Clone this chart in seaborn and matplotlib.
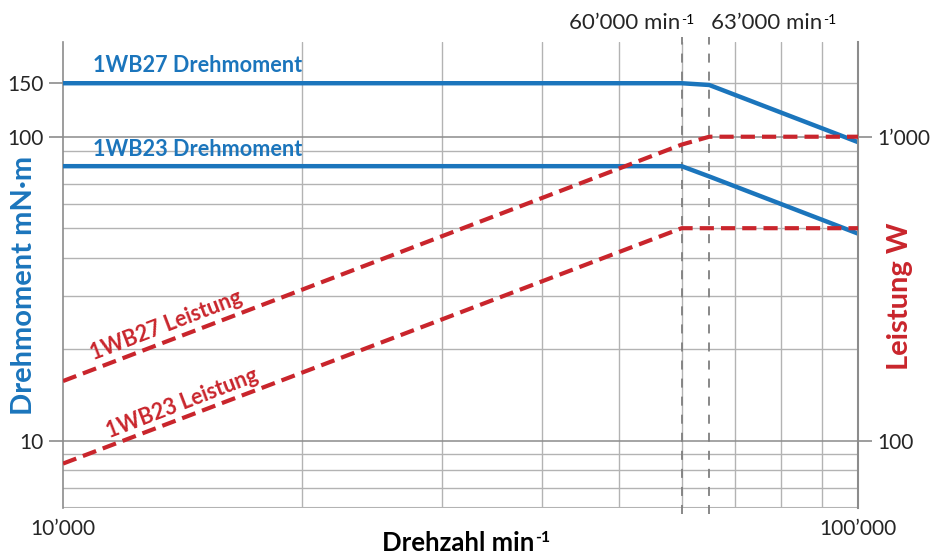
import numpy as np
import pandas as pd
import seaborn as sns
import matplotlib.pyplot as plt
from matplotlib.ticker import FixedLocator, NullLocator, NullFormatter

# --- data ---
speed = [10000, 60000, 65000, 100000]          # Drehzahl min-1
torque_1wb27 = [150, 150, 148, 96]             # mN·m
torque_1wb23 = [80, 80, 74, 48]                # mN·m
power_1wb27 = [157, 942, 1000, 1000]           # W
power_1wb23 = [84, 500, 500, 500]              # W
speed_marks = [60000, 65000]                   # gestrichelte Linien
speed_mark_labels = ["60’000 min", "63’000 min"]

BLUE = "#1b75bc"
RED = "#c9252c"
GRID = "#b3b3b3"
MAJOR = "#8c8c8c"

sns.set_style("white")
plt.rcParams["font.family"] = ["Lato", "DejaVu Sans"]

W, H = 944, 554
fig = plt.figure(figsize=(W / 100, H / 100), dpi=100)
x0, x1, ytop, ybot = 63, 858, 42, 508
ax = fig.add_axes([x0 / W, 1 - ybot / H, (x1 - x0) / W, (ybot - ytop) / H])

ax.set_xscale("log")
ax.set_yscale("log")
ax.set_xlim(10000, 100000)
ax.set_ylim(6, 205)


def add_sup(txt, sup, size, weight="normal", color="black", dy=0.93):
    # kleines "-1" rechts oben an einen Text hängen
    return ax.annotate(sup, xy=(1, dy), xycoords=txt, xytext=(1, 0),
                       textcoords="offset points", ha="left", va="top",
                       fontsize=size, fontweight=weight, color=color,
                       annotation_clip=False)


# grid
for xv in [20000, 30000, 40000, 50000, 60000, 70000, 80000, 90000]:
    ax.axvline(xv, color=GRID, lw=1.0, zorder=0)
for yv in [6, 7, 8, 9, 20, 30, 40, 50, 60, 70, 80, 90, 150]:
    ax.axhline(yv, color=GRID, lw=1.0, zorder=0)
for yv in [10, 100]:
    ax.axhline(yv, color=MAJOR, lw=1.1, zorder=0)

# twin axis for power
ax2 = ax.twinx()
ax2.set_yscale("log")
ax2.set_ylim(60, 2050)

# torque (solid blue)
sns.lineplot(x=speed, y=torque_1wb27, ax=ax, color=BLUE, lw=3.2, zorder=3)
sns.lineplot(x=speed, y=torque_1wb23, ax=ax, color=BLUE, lw=3.2, zorder=3)

# power (dashed red)
sns.lineplot(x=speed, y=power_1wb27, ax=ax2, color=RED, lw=3.0, zorder=3)
sns.lineplot(x=speed, y=power_1wb23, ax=ax2, color=RED, lw=3.0, zorder=3)
for ln in ax2.lines:
    ln.set_dashes([3.4, 1.7])
    ln.set_solid_capstyle("butt")

# vertical speed markers
for xv in speed_marks:
    ax.axvline(xv, ymin=-0.012, ymax=1.01, color="#7f7f7f", lw=1.3,
               ls=(0, (5, 5)), zorder=2, clip_on=False)
t1 = ax.text(59700, 1.02, speed_mark_labels[0], transform=ax.get_xaxis_transform(),
             ha="right", va="bottom", fontsize=16)
add_sup(t1, "-1", 10)
t2 = ax.text(65300, 1.02, speed_mark_labels[1], transform=ax.get_xaxis_transform(),
             ha="left", va="bottom", fontsize=16)
add_sup(t2, "-1", 10)

# in-plot labels
ax.text(10907, 162.7, "1WB27 Drehmoment", color=BLUE, fontsize=15.6,
        fontweight="bold", ha="left", va="baseline")
ax.text(10907, 86.6, "1WB23 Drehmoment", color=BLUE, fontsize=15.6,
        fontweight="bold", ha="left", va="baseline")
ax.text(13480, 23.9, "1WB27 Leistung", color=RED, fontsize=15.5,
        fontweight="bold", ha="center", va="center", rotation=21,
        rotation_mode="anchor")
ax.text(14115, 13.3, "1WB23 Leistung", color=RED, fontsize=15.5,
        fontweight="bold", ha="center", va="center", rotation=21,
        rotation_mode="anchor")

# ticks
ax.xaxis.set_major_locator(FixedLocator([10000, 100000]))
ax.set_xticklabels(["10’000", "100’000"])
ax.xaxis.set_minor_locator(NullLocator())
ax.yaxis.set_major_locator(FixedLocator([10, 100, 150]))
ax.set_yticklabels(["10", "100", "150"])
ax.yaxis.set_minor_locator(NullLocator())
ax.yaxis.set_minor_formatter(NullFormatter())
ax2.yaxis.set_major_locator(FixedLocator([100, 1000]))
ax2.set_yticklabels(["100", "1’000"])
ax2.yaxis.set_minor_locator(NullLocator())
ax2.yaxis.set_minor_formatter(NullFormatter())

ax.tick_params(axis="x", length=5, width=1.2, color=MAJOR, labelsize=15, pad=3)
ax.tick_params(axis="y", length=10, width=1.2, color=MAJOR, labelsize=15, pad=4)
ax2.tick_params(axis="y", length=10, width=1.2, color=MAJOR, labelsize=15, pad=4)

for a in (ax, ax2):
    for s in a.spines.values():
        s.set_visible(False)
ax.spines["left"].set_visible(True)
ax.spines["left"].set_color(MAJOR)
ax.spines["left"].set_linewidth(1.2)
ax2.spines["right"].set_visible(True)
ax2.spines["right"].set_color(MAJOR)
ax2.spines["right"].set_linewidth(1.5)
ax.axhline(6, color=GRID, lw=1.5, zorder=0)

# axis titles
fig.text(24 / W, 1 - 285 / H, "Drehmoment mN·m", color=BLUE, fontsize=21,
         fontweight="bold", rotation=90, ha="center", va="center")
fig.text(900 / W, 1 - 296 / H, "Leistung W", color=RED, fontsize=21,
         fontweight="bold", rotation=90, ha="center", va="center")
xl = ax.text(0.5, 0, "Drehzahl min", transform=fig.transFigure, color="black",
             fontsize=18.5, fontweight="bold", ha="center", va="baseline")
xl.set_position((458 / W, 1 - 551 / H))
add_sup(xl, "-1", 11.5, weight="bold", dy=1.0)

fig.savefig("out.png", dpi=100, facecolor="white")
